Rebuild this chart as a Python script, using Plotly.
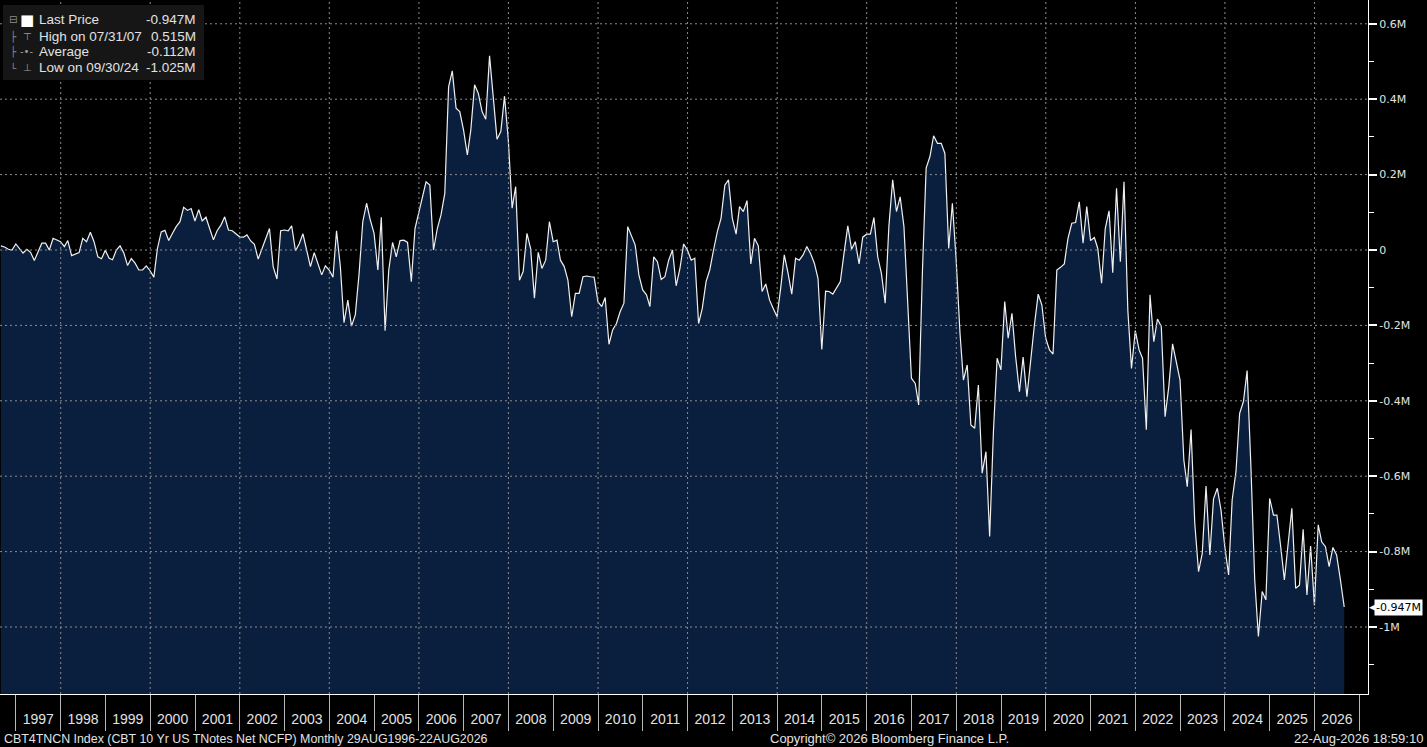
import pandas as pd
import plotly.graph_objects as go

# CBT 10 Yr US TNotes net non-commercial futures positions (millions), month ends Aug 1996 - Aug 2026
net_aug96 = [0.011, 0.008, 0.002, 0.000, 0.016, 0.002, -0.008, 0.002, -0.006, -0.028,
             -0.005, 0.018, 0.018, 0.000, 0.031, 0.027, 0.022, 0.009, 0.025, -0.015,
             -0.011, -0.007, 0.031, 0.022, 0.047, 0.022, -0.018, -0.023, -0.001, -0.022,
             -0.026, 0.000, 0.011, -0.008, -0.041, -0.023, -0.035, -0.053, -0.053, -0.042,
             -0.055, -0.072, 0.004, 0.048, 0.052, 0.025, 0.044, 0.062, 0.075, 0.113,
             0.105, 0.110, 0.077, 0.107]
net_feb01 = [0.077, 0.087, 0.057, 0.027, 0.051, 0.066, 0.088, 0.053, 0.051, 0.043,
             0.035, 0.034, 0.040, 0.024, 0.015, -0.024, 0.005, 0.030, 0.057, -0.044,
             -0.077, 0.051, 0.053, 0.051, 0.064, -0.002, 0.016, 0.043, 0.000, -0.044,
             -0.007, -0.037, -0.066, -0.042, -0.053, -0.072, 0.051, -0.044, -0.193, -0.133,
             -0.202, -0.172, -0.062, 0.075, 0.124, 0.080, 0.044, -0.053, 0.087, -0.214,
             -0.053]
net_may05 = [0.020, -0.018, 0.025, 0.026, 0.020, -0.084, 0.057, 0.101, 0.150, 0.181,
             0.172, 0.000, 0.057, 0.093, 0.150, 0.433, 0.475, 0.376, 0.367, 0.318,
             0.252, 0.318, 0.438, 0.416, 0.367, 0.347, 0.515, 0.407, 0.294, 0.314,
             0.408, 0.292, 0.111, 0.168, -0.080, -0.057, 0.044, 0.004, -0.128, -0.006,
             -0.049, -0.027, 0.075, 0.022, 0.026, -0.027, -0.044, -0.080, -0.177, -0.115,
             -0.115]
net_aug09 = [-0.071, -0.069, -0.071, -0.072, -0.137, -0.150, -0.126, -0.250, -0.212, -0.195,
             -0.164, -0.141, 0.062, 0.040, 0.013, -0.066, -0.106, -0.119, -0.150, -0.018,
             -0.031, -0.078, -0.071, -0.027, 0.000, -0.095, -0.049, 0.016, 0.000, -0.027,
             -0.022, -0.195, -0.155, -0.084, -0.053, 0.000, 0.049, 0.084, 0.172, 0.186,
             0.084, 0.042, 0.115, 0.102, 0.131, -0.037, 0.031, 0.011, -0.110, -0.090,
             -0.133]
net_nov13 = [-0.155, -0.177, -0.097, -0.013, -0.062, -0.117, -0.022, -0.027, -0.013, 0.009,
             -0.009, -0.035, -0.075, -0.264, -0.109, -0.110, -0.117, -0.102, -0.084, -0.009,
             0.064, 0.002, 0.022, -0.037, 0.034, 0.042, 0.042, 0.086, -0.018, -0.062,
             -0.141, 0.062, 0.186, 0.102, 0.141, 0.062, -0.141, -0.340, -0.354, -0.411,
             -0.053, 0.217, 0.248, 0.303, 0.283, 0.283, 0.256, 0.004, 0.124, -0.027,
             -0.220]
net_feb18 = [-0.345, -0.305, -0.464, -0.473, -0.358, -0.592, -0.535, -0.760, -0.480, -0.287,
             -0.318, -0.137, -0.234, -0.168, -0.283, -0.376, -0.284, -0.389, -0.283, -0.199,
             -0.117, -0.146, -0.234, -0.265, -0.276, -0.053, -0.046, -0.037, 0.031, 0.071,
             0.073, 0.128, 0.018, 0.115, 0.025, 0.033, 0.004, -0.088, 0.057, 0.104,
             -0.060, 0.164, -0.031, 0.181, -0.159, -0.314, -0.214, -0.265, -0.287, -0.477,
             -0.119]
net_may22 = [-0.243, -0.183, -0.203, -0.442, -0.363, -0.249, -0.296, -0.345, -0.557, -0.628,
             -0.476, -0.725, -0.853, -0.805, -0.626, -0.809, -0.660, -0.632, -0.690, -0.787,
             -0.862, -0.663, -0.588, -0.433, -0.402, -0.320, -0.575, -0.875, -1.025, -0.906,
             -0.928, -0.659, -0.703, -0.703, -0.787, -0.875, -0.778, -0.685, -0.897, -0.889,
             -0.741, -0.915, -0.785, -0.942, -0.729, -0.774, -0.787, -0.840, -0.789, -0.809,
             -0.875, -0.947]

y_ticks = [0.6, 0.4, 0.2, 0.0, -0.2, -0.4, -0.6, -0.8, -1.0]
y_labels = ["0.6M", "0.4M", "0.2M", "0", "-0.2M", "-0.4M", "-0.6M", "-0.8M", "-1M"]
grid_years = list(range(1998, 2027, 2))

legend_labels = ["Last Price", "High on 07/31/07", "Average", "Low on 09/30/24"]
legend_values = ["-0.947M", "0.515M", "-0.112M", "-1.025M"]

footer_left = "CBT4TNCN Index (CBT 10 Yr US TNotes Net NCFP) Monthly 29AUG1996-22AUG2026"
footer_mid = "Copyright\u00a9 2026 Bloomberg Finance L.P."
footer_right = "22-Aug-2026 18:59:10"

net_ncfp = net_aug96 + net_feb01 + net_may05 + net_aug09 + net_nov13 + net_feb18 + net_may22
dates = pd.date_range("1996-08-01", periods=len(net_ncfp), freq="MS") + pd.offsets.MonthEnd(0)

# page geometry (pixels)
W, H = 1427, 747
PW, PH = 1368, 694          # plot area width / height
Y_MIN, Y_MAX = -1.1777, 0.6631
X_RANGE = ["1996-08-24", "2027-03-13"]

SANS = "Liberation Sans, Arial, sans-serif"
TEXT = "#e2e2e2"


def px_x(px):
    return px / PW


def px_y(px):
    return 1 - px / PH


fig = go.Figure()

# invisible floor so the area fills down to the bottom of the plot
fig.add_trace(go.Scatter(x=dates, y=[Y_MIN] * len(dates), mode="lines",
                         line=dict(width=0), hoverinfo="skip", showlegend=False))
fig.add_trace(go.Scatter(x=dates, y=net_ncfp, mode="lines", fill="tonexty",
                         fillcolor="#0a1f3e", line=dict(color="#f0f0f0", width=1.2),
                         name="Last Price", showlegend=False))

# dotted grid drawn above the fill
for yr in grid_years:
    fig.add_shape(type="line", xref="x", yref="paper", x0=f"{yr}-01-01", x1=f"{yr}-01-01",
                  y0=0, y1=1, line=dict(color="#8c8c8c", width=1, dash="2px,3px"), layer="above")
for v in y_ticks:
    fig.add_shape(type="line", xref="paper", yref="y", x0=0, x1=1, y0=v, y1=v,
                  line=dict(color="#8c8c8c", width=1, dash="2px,3px"), layer="above")

# legend box, top left
fig.add_shape(type="rect", xref="paper", yref="paper", x0=px_x(3), x1=px_x(204),
              y0=px_y(80), y1=px_y(5), fillcolor="#161616", line=dict(width=0), layer="above")

row_y = [20, 36, 52, 68]
icons = ["\u25a0", "\u22a4", "-\u2022-", "\u22a5"]
for i, (lab, val) in enumerate(zip(legend_labels, legend_values)):
    y = px_y(row_y[i])
    fig.add_annotation(xref="paper", yref="paper", x=px_x(37), y=y, text=lab, showarrow=False,
                       xanchor="left", yanchor="middle",
                       font=dict(family=SANS, size=13.5, color=TEXT))
    fig.add_annotation(xref="paper", yref="paper", x=px_x(198), y=y, text=val, showarrow=False,
                       xanchor="right", yanchor="middle",
                       font=dict(family=SANS, size=13.5, color=TEXT))
    fig.add_annotation(xref="paper", yref="paper", x=px_x(27), y=y, text=icons[i], showarrow=False,
                       xanchor="center", yanchor="middle",
                       font=dict(family="DejaVu Sans", size=15 if i == 0 else 10,
                                 color="white" if i == 0 else "#9a9a9a"))
    fig.add_annotation(xref="paper", yref="paper", x=px_x(13), y=y,
                       text="\u229f" if i == 0 else ("\u2514" if i == 3 else "\u251c"),
                       showarrow=False, xanchor="center", yanchor="middle",
                       font=dict(family="DejaVu Sans", size=10, color="#8a8a8a"))

# last price tag on the right axis
last = net_ncfp[-1]
fig.add_annotation(xref="paper", yref="y", x=1, y=last, text="\u25c0", showarrow=False,
                   xanchor="left", yanchor="middle", xshift=-1,
                   font=dict(family="DejaVu Sans", size=9, color="white"))
fig.add_annotation(xref="paper", yref="y", x=1, y=last, text=f"{last:.3f}M", showarrow=False,
                   xanchor="left", yanchor="middle", xshift=6, bgcolor="white", borderpad=1,
                   font=dict(family="DejaVu Sans", size=11, color="black"))

# footer texts
for txt, xp, anchor, size in [(footer_left, 2, "left", 12.4), (footer_mid, 890, "center", 13),
                              (footer_right, 1425, "right", 13)]:
    fig.add_annotation(xref="paper", yref="paper", x=px_x(xp), y=px_y(739), text=txt,
                       showarrow=False, xanchor=anchor, yanchor="middle",
                       font=dict(family=SANS, size=size, color=TEXT))

fig.update_layout(
    width=W, height=H,
    paper_bgcolor="black", plot_bgcolor="black",
    margin=dict(l=0, r=W - PW, t=0, b=H - PH, pad=0),
    showlegend=False,
    xaxis=dict(type="date", range=X_RANGE, dtick="M12", tick0="1997-01-01",
               ticklabelmode="period", tickformat="%Y", ticks="outside", ticklen=36,
               tickcolor="#b8b8b8", tickwidth=1, showgrid=False, zeroline=False,
               showline=True, linecolor="white", linewidth=1, ticklabelstandoff=-24,
               tickfont=dict(family=SANS, size=14, color=TEXT)),
    yaxis=dict(side="right", range=[Y_MIN, Y_MAX], tickmode="array", tickvals=y_ticks,
               ticktext=y_labels, ticks="outside", ticklen=8, tickwidth=2, tickcolor="white",
               minor=dict(dtick=0.1, tick0=0, ticks="outside", ticklen=5, tickwidth=1,
                          tickcolor="white", showgrid=False),
               showgrid=False, zeroline=False, showline=True, linecolor="white", linewidth=1,
               tickfont=dict(family="DejaVu Sans", size=11, color=TEXT)),
)

# drop the browser's default page margin so the figure sits flush at the top-left corner
fig.write_html("out.html", config={"displayModeBar": False},
               post_script="document.body.style.margin='0';document.body.style.background='black';")
